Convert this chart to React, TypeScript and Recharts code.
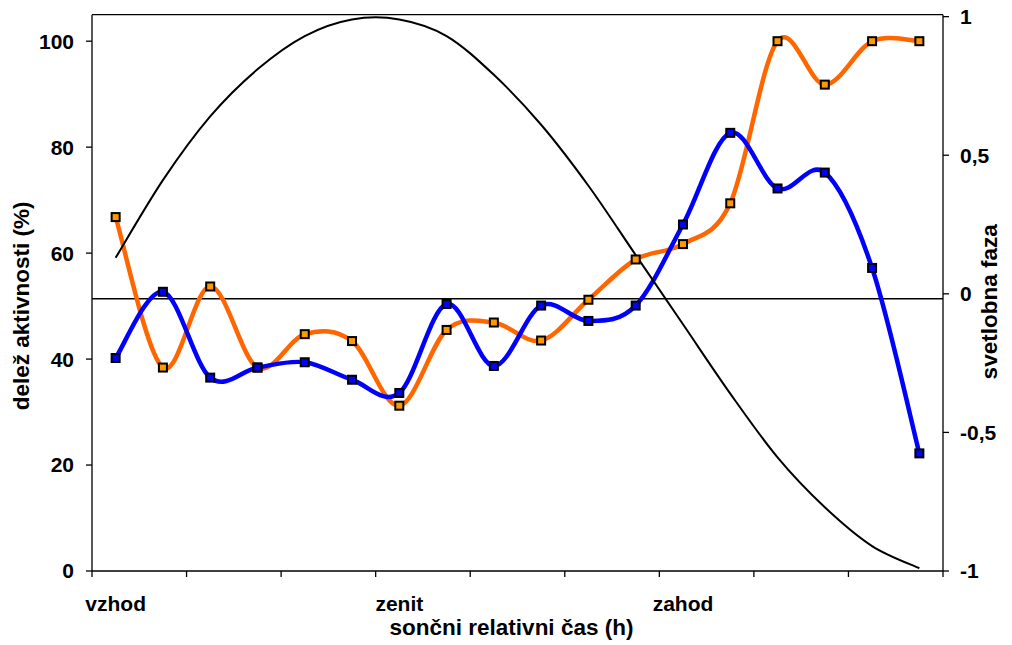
import { LineChart, Line, XAxis, YAxis, ReferenceLine } from 'recharts'

// 18 relative solar hours, sunrise .. sunset .. night
const hourSlots = [0, 1, 2, 3, 4, 5, 6, 7, 8, 9, 10, 11, 12, 13, 14, 15, 16, 17]
const sunMarks: Record<number, string> = { 0: 'vzhod', 6: 'zenit', 12: 'zahod' }

const activityOrange = [66.8, 38.4, 53.7, 38.4, 44.7, 43.4, 31.2, 45.5, 46.9, 43.5, 51.2, 58.8, 61.7, 69.4, 100, 91.8, 100, 100]
const activityBlue = [40.2, 52.7, 36.5, 38.4, 39.4, 36.1, 33.6, 50.4, 38.7, 50.1, 47.2, 50.1, 65.4, 82.7, 72.2, 75.2, 57.2, 22.2]
const lightPhase = [0.13, 0.41, 0.64, 0.81, 0.93, 0.99, 0.99, 0.93, 0.79, 0.61, 0.39, 0.14, -0.11, -0.36, -0.59, -0.77, -0.91, -0.99]

const leftTicks = [0, 20, 40, 60, 80, 100]
const rightTicks = [-1, -0.5, 0, 0.5, 1]
const activityMean = 51.4

const FONT = '"Liberation Sans", Arial, sans-serif'

const rows = hourSlots.map((h, i) => ({
  x: h + 0.5,
  orange: activityOrange[i],
  blue: activityBlue[i],
  phase: lightPhase[i],
}))

const labelPos: Record<string, string> = {}
Object.keys(sunMarks).forEach((k) => {
  labelPos[String(Number(k) + 0.5)] = sunMarks[Number(k)]
})
const boundaryTicks = [0, 2, 4, 6, 8, 10, 12, 14, 16, 18]
const xTicks = [...boundaryTicks, ...Object.keys(labelPos).map(Number)].sort((a, b) => a - b)

// Excel-like smoothed line (Catmull-Rom through the points)
function smoothCurve(context: any) {
  let pts: number[][] = []
  return {
    areaStart() {},
    areaEnd() {},
    lineStart() {
      pts = []
    },
    point(x: number, y: number) {
      pts.push([+x, +y])
    },
    lineEnd() {
      if (!pts.length) return
      context.moveTo(pts[0][0], pts[0][1])
      for (let i = 0; i < pts.length - 1; i++) {
        const p0 = pts[Math.max(i - 1, 0)]
        const p1 = pts[i]
        const p2 = pts[i + 1]
        const p3 = pts[Math.min(i + 2, pts.length - 1)]
        context.bezierCurveTo(
          p1[0] + (p2[0] - p0[0]) / 6,
          p1[1] + (p2[1] - p0[1]) / 6,
          p2[0] - (p3[0] - p1[0]) / 6,
          p2[1] - (p3[1] - p1[1]) / 6,
          p2[0],
          p2[1]
        )
      }
    },
  }
}

function squareDot(fill: string) {
  return (props: any) => {
    const { cx, cy, index } = props
    if (cx == null || cy == null) return <g key={index} />
    return (
      <rect
        key={index}
        x={cx - 4}
        y={cy - 4}
        width={8}
        height={8}
        fill={fill}
        stroke="#000"
        strokeWidth={2}
      />
    )
  }
}

function TimeTick({ x, y, payload }: any) {
  const label = labelPos[String(payload.value)]
  if (label) {
    return (
      <text x={x} y={y + 40} textAnchor="middle" fontFamily={FONT} fontWeight="bold" fontSize={21} fill="#000">
        {label}
      </text>
    )
  }
  return <line x1={x} y1={y} x2={x} y2={y + 6} stroke="#000" strokeWidth={1.3} />
}

function XTitle(props: any) {
  const vb = props.viewBox || { x: 92, y: 571, width: 851, height: 74 }
  return (
    <text x={vb.x + vb.width / 2 - 6} y={vb.y + 64} textAnchor="middle" fontFamily={FONT} fontWeight="bold" fontSize={22.5} fill="#000">
      sončni relativni čas (h)
    </text>
  )
}

function LeftTitle(props: any) {
  const vb = props.viewBox || { x: 40, y: 15, width: 52, height: 556 }
  const cx = vb.x - 18
  const cy = vb.y + vb.height / 2 + 13
  return (
    <text x={cx} y={cy} transform={`rotate(-90, ${cx}, ${cy})`} textAnchor="middle" dominantBaseline="central" fontFamily={FONT} fontWeight="bold" fontSize={22.5} fill="#000">
      delež aktivnosti (%)
    </text>
  )
}

function RightTitle(props: any) {
  const vb = props.viewBox || { x: 943, y: 15, width: 60, height: 556 }
  const cx = vb.x + 47
  const cy = vb.y + vb.height / 2 + 9
  return (
    <text x={cx} y={cy} transform={`rotate(-90, ${cx}, ${cy})`} textAnchor="middle" dominantBaseline="central" fontFamily={FONT} fontWeight="bold" fontSize={22.5} fill="#000">
      svetlobna faza
    </text>
  )
}

const tickStyle = { fontFamily: FONT, fontWeight: 'bold', fontSize: 21, fill: '#000' }

export default function App() {
  return (
    <div style={{ position: 'absolute', top: 0, left: 0, background: '#fff' }}>
      <LineChart width={1012} height={645} data={rows} margin={{ top: 14.7, right: 9, bottom: 0, left: 40 }}>
        <XAxis
          dataKey="x"
          type="number"
          domain={[0, 18]}
          ticks={xTicks}
          interval={0}
          tick={<TimeTick />}
          tickLine={false}
          tickSize={0}
          tickMargin={0}
          height={74}
          axisLine={{ stroke: '#000', strokeWidth: 1.3 }}
          label={XTitle}
        />
        <YAxis
          yAxisId="left"
          domain={[0, 105]}
          ticks={leftTicks}
          width={52}
          tick={tickStyle}
          tickSize={6}
          tickMargin={12}
          axisLine={{ stroke: '#000', strokeWidth: 1.3 }}
          tickLine={{ stroke: '#000', strokeWidth: 1.3 }}
          label={LeftTitle}
        />
        <YAxis
          yAxisId="right"
          orientation="right"
          domain={[-1, 1.007]}
          ticks={rightTicks}
          width={60}
          tick={tickStyle}
          tickSize={6}
          tickMargin={11}
          tickFormatter={(v: number) => String(v).replace('.', ',')}
          axisLine={{ stroke: '#000', strokeWidth: 1.3 }}
          tickLine={{ stroke: '#000', strokeWidth: 1.3 }}
          label={RightTitle}
        />
        <ReferenceLine yAxisId="left" y={105} stroke="#000" strokeWidth={1.3} />
        <ReferenceLine yAxisId="left" y={activityMean} stroke="#000" strokeWidth={1.5} />
        <Line
          yAxisId="left"
          dataKey="orange"
          type={smoothCurve as any}
          stroke="#FF6600"
          strokeWidth={4.5}
          dot={squareDot('#FF9900')}
          activeDot={false}
          isAnimationActive={false}
        />
        <Line
          yAxisId="left"
          dataKey="blue"
          type={smoothCurve as any}
          stroke="#0000FF"
          strokeWidth={4.5}
          dot={squareDot('#0000FF')}
          activeDot={false}
          isAnimationActive={false}
        />
        <Line
          yAxisId="right"
          dataKey="phase"
          type={smoothCurve as any}
          stroke="#000"
          strokeWidth={2}
          dot={false}
          activeDot={false}
          isAnimationActive={false}
        />
      </LineChart>
    </div>
  )
}
